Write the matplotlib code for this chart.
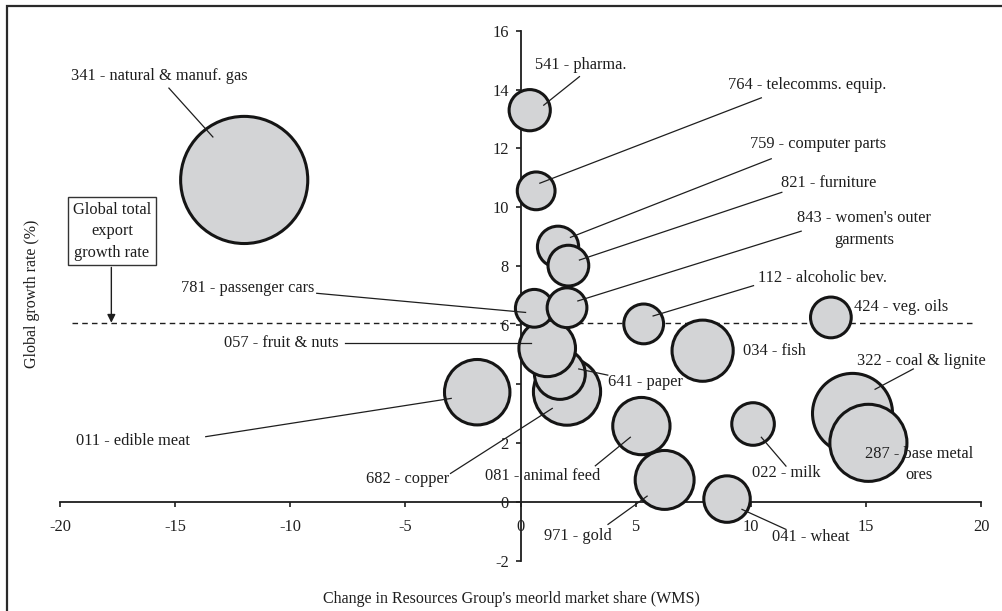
import matplotlib
matplotlib.use("Agg")
import matplotlib.pyplot as plt
from matplotlib.patches import Rectangle

plt.rcParams['font.family'] = ['Liberation Serif', 'DejaVu Serif']
plt.rcParams['axes.unicode_minus'] = False

# ---- data ----
codes = ["341", "011", "682", "641", "057", "781", "843", "759", "821", "764",
         "541", "112", "034", "081", "971", "041", "022", "424", "322", "287"]
names = ["natural & manuf. gas", "edible meat", "copper", "paper", "fruit & nuts",
         "passenger cars", "women's outer\ngarments", "computer parts", "furniture",
         "telecomms. equip.", "pharma.", "alcoholic bev.", "fish", "animal feed",
         "gold", "wheat", "milk", "veg. oils", "coal & lignite", "base metal\nores"]
wms_change = [-12.0, -1.88, 2.02, 1.71, 1.16, 0.6, 2.02, 1.63, 2.08, 0.68,
              0.4, 5.35, 7.91, 5.25, 6.26, 8.97, 10.1, 13.48, 14.42, 15.11]
growth = [10.93, 3.72, 3.74, 4.34, 5.21, 6.57, 6.59, 8.66, 8.02, 10.56,
          13.3, 6.04, 5.13, 2.57, 0.74, 0.09, 2.64, 6.26, 3.0, 2.0]
bubble = [41.9, 11.1, 11.7, 6.7, 8.3, 3.7, 4.1, 4.4, 4.3, 3.7,
          4.4, 4.1, 9.7, 8.5, 9.0, 5.6, 4.7, 4.3, 16.6, 15.4]
global_rate = 6.08

# label layout: (text x, text y, leader start, leader end) in data coords
label_pos = {
    "341": (-15.67, 14.46, (-15.27, 14.05), (-13.36, 12.39)),
    "541": (2.60, 14.83, (2.56, 14.44), (1.01, 13.47)),
    "764": (12.44, 14.15, (10.46, 13.72), (0.84, 10.82)),
    "759": (12.91, 12.15, (10.89, 11.65), (2.17, 8.98)),
    "821": (13.37, 10.84, (11.35, 10.51), (2.56, 8.21)),
    "843": (14.92, 9.27, (12.19, 9.19), (2.49, 6.82)),
    "112": (13.12, 7.59, (10.12, 7.34), (5.76, 6.31)),
    "781": (-11.83, 7.25, (-8.85, 7.08), (0.22, 6.43)),
    "424": (16.51, 6.60, None, None),
    "057": (-10.39, 5.40, (-7.62, 5.40), (0.46, 5.40)),
    "034": (11.03, 5.13, None, None),
    "322": (17.43, 4.78, (17.06, 4.51), (15.40, 3.82)),
    "641": (5.42, 4.08, (3.79, 4.30), (2.53, 4.51)),
    "011": (-16.85, 2.06, (-13.67, 2.21), (-3.01, 3.51)),
    "682": (-4.92, 0.77, (-3.04, 0.96), (1.38, 3.17)),
    "081": (0.94, 0.87, (3.25, 1.22), (4.77, 2.19)),
    "022": (11.55, 0.99, (11.53, 1.21), (10.46, 2.19)),
    "287": (17.31, 1.26, None, None),
    "971": (2.49, -1.17, (3.80, -0.77), (5.50, 0.19)),
    "041": (12.60, -1.21, (11.53, -0.94), (9.62, -0.26)),
}

xticks = [-20, -15, -10, -5, 0, 5, 10, 15, 20]
yticks = [-2, 0, 2, 4, 6, 8, 10, 12, 14, 16]

txt_color = '#1e1e1e'
fs = 11.8

fig = plt.figure(figsize=(10.02, 6.11), dpi=100)
ax = fig.add_axes([60/1002, 1-560.6/611, (981-60)/1002, (560.6-30.7)/611])
ax.set_xlim(-20, 20)
ax.set_ylim(-2, 16)

for s in ['top', 'right']:
    ax.spines[s].set_visible(False)
ax.spines['left'].set_position(('data', 0))
ax.spines['bottom'].set_position(('data', 0))
for s in ['left', 'bottom']:
    ax.spines[s].set_linewidth(1.3)
    ax.spines[s].set_color('#1e1e1e')
ax.set_xticks(xticks)
ax.set_yticks(yticks)
ax.tick_params(axis='both', direction='out', length=3.5, width=1.2,
               labelsize=fs, colors=txt_color)
ax.tick_params(axis='x', pad=9)
ax.tick_params(axis='y', pad=5)

# global rate line
ax.plot([-19.5, 19.6], [global_rate, global_rate], ls=(0, (4, 3)), color='#1e1e1e',
        lw=1.0, zorder=1)

# bubbles
k = 200.0
ax.scatter(wms_change, growth, s=[b * k for b in bubble], facecolor='#d3d4d6',
           edgecolor='#151515', linewidth=2.2, zorder=3, clip_on=False)

# labels + leaders
for c, n in zip(codes, names):
    tx, ty, p0, p1 = label_pos[c]
    ax.text(tx, ty, f"{c} - {n}", ha='center', va='center', fontsize=fs,
            color=txt_color, zorder=5, linespacing=1.45)
    if p0 is not None:
        ax.plot([p0[0], p1[0]], [p0[1], p1[1]], color='#1e1e1e', lw=0.9, zorder=4)

# Global total export box with arrow
ax.text(-17.74, 9.19, "Global total\nexport\ngrowth rate", ha='center', va='center',
        fontsize=fs, color=txt_color, linespacing=1.45,
        bbox=dict(boxstyle='square,pad=0.3', facecolor='white', edgecolor='#333333', lw=1.0))
ax.annotate("", xy=(-17.77, global_rate), xytext=(-17.77, 7.96),
            arrowprops=dict(arrowstyle='-|>', color='#1e1e1e', lw=1.0,
                            mutation_scale=12, shrinkA=0, shrinkB=0))

# axis titles
fig.text(511.7/1002, 1-599.3/611, "Change in Resources Group's meorld market share (WMS)",
         ha='center', va='center', fontsize=fs-0.3, color=txt_color)
fig.text(32/1002, 1-294/611, "Global growth rate (%)", ha='center', va='center',
         rotation=90, fontsize=fs-0.3, color=txt_color)

# figure frame (only left and top edges visible in the crop)
fig.patches.append(Rectangle((7/1002, -0.05), 1.1, 1 - 6/611 + 0.05,
                             transform=fig.transFigure, fill=False,
                             edgecolor='#2a2a2a', lw=1.6, clip_on=False))

fig.savefig("out.png", dpi=100)
